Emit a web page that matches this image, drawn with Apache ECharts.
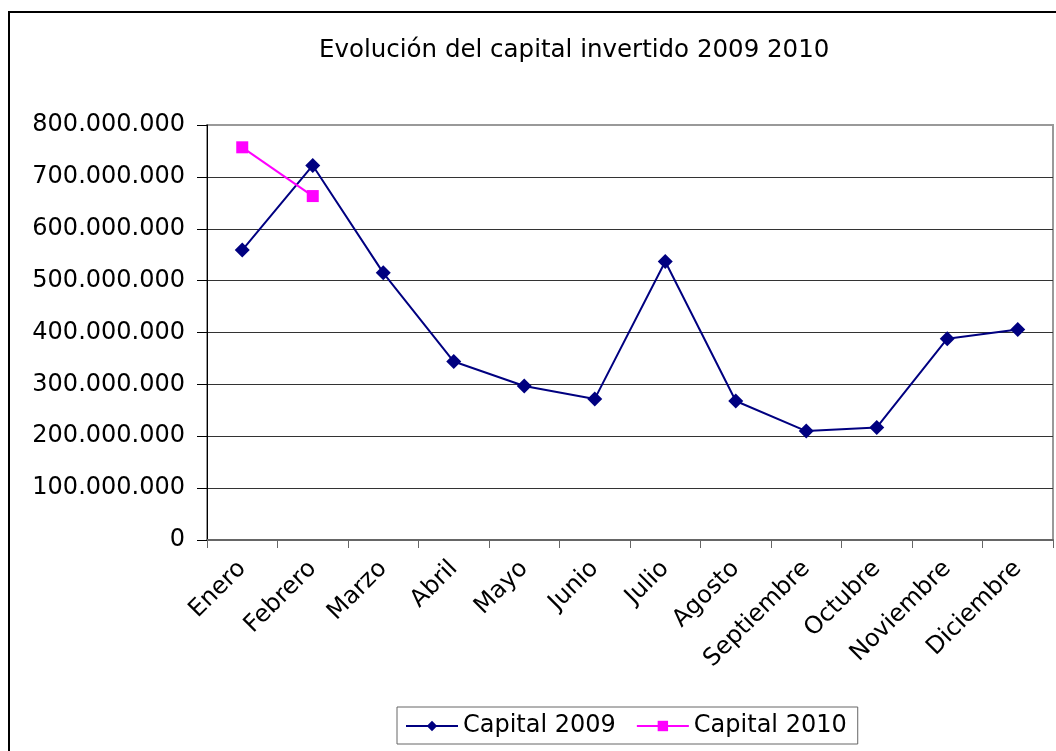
<!DOCTYPE html>
<html>
<head>
<meta charset="utf-8">
<script src="https://cdn.jsdelivr.net/npm/echarts@6/dist/echarts.min.js"></script>
<style>
  html, body { margin: 0; padding: 0; background: #fff; }
  #chart { width: 1056px; height: 751px; }
</style>
</head>
<body>
<div id="chart"></div>
<script>
// datos
const meses = ['Enero', 'Febrero', 'Marzo', 'Abril', 'Mayo', 'Junio', 'Julio',
  'Agosto', 'Septiembre', 'Octubre', 'Noviembre', 'Diciembre']
const capital2009 = [559000000, 722000000, 515000000, 344000000, 297000000, 272000000,
  537000000, 268000000, 210000000, 217000000, 388000000, 406000000]
const capital2010 = [757000000, 663000000, null, null, null, null,
  null, null, null, null, null, null]
const yMin = 0
const yMax = 800000000
const yStep = 100000000

const fuente = 'DejaVu Sans'

function miles(v) {
  return String(v).replace(/\B(?=(\d{3})+(?!\d))/g, '.')
}

// lineas de division: oscuras, la de arriba gris como el borde
const coloresDivision = ['#333', '#333', '#333', '#333', '#333', '#333', '#333', '#333', '#999']

const chart = echarts.init(document.getElementById('chart'))
chart.setOption({
  animation: false,
  textStyle: { fontFamily: fuente },
  title: {
    text: 'Evolución del capital invertido 2009 2010',
    left: 314,
    top: 33,
    textStyle: { fontFamily: fuente, fontSize: 24.5, fontWeight: 'normal', color: '#000' }
  },
  graphic: [{
    type: 'rect',
    shape: { x: 9, y: 12, width: 1100, height: 800 },
    style: { fill: 'none', stroke: '#000', lineWidth: 2 },
    silent: true
  }],
  grid: {
    left: 207,
    right: 3,
    top: 125,
    bottom: 211,
    show: true,
    borderColor: '#999',
    borderWidth: 2
  },
  legend: {
    left: 397,
    top: 707,
    itemWidth: 52,
    itemHeight: 13,
    itemGap: 20,
    padding: [7, 11, 6, 8],
    borderColor: '#666',
    borderWidth: 1,
    textStyle: { fontFamily: fuente, fontSize: 24, color: '#000' },
    data: ['Capital 2009', 'Capital 2010']
  },
  xAxis: {
    type: 'category',
    data: meses,
    boundaryGap: true,
    axisLine: { lineStyle: { color: '#666', width: 2 } },
    axisTick: { show: true, length: 8, lineStyle: { color: '#666' } },
    axisLabel: {
      rotate: 45,
      margin: 25,
      fontFamily: fuente,
      fontSize: 24,
      color: '#000'
    }
  },
  yAxis: {
    type: 'value',
    min: yMin,
    max: yMax,
    interval: yStep,
    axisLine: { show: true, lineStyle: { color: '#000', width: 1 } },
    axisTick: { show: true, length: 10, lineStyle: { color: '#000' } },
    axisLabel: {
      margin: 22,
      fontFamily: fuente,
      fontSize: 24,
      color: '#000',
      formatter: miles
    },
    splitLine: { lineStyle: { color: coloresDivision, width: 1 } }
  },
  series: [
    {
      name: 'Capital 2009',
      type: 'line',
      data: capital2009,
      symbol: 'path://M0,-1 L1,0 L0,1 L-1,0 Z',
      symbolSize: 15,
      color: '#000080',
      lineStyle: { color: '#000080', width: 2 },
      itemStyle: { color: '#000080' }
    },
    {
      name: 'Capital 2010',
      type: 'line',
      data: capital2010,
      symbol: 'rect',
      symbolSize: 12,
      color: '#ff00ff',
      lineStyle: { color: '#ff00ff', width: 2 },
      itemStyle: { color: '#ff00ff' }
    }
  ]
})
</script>
</body>
</html>
